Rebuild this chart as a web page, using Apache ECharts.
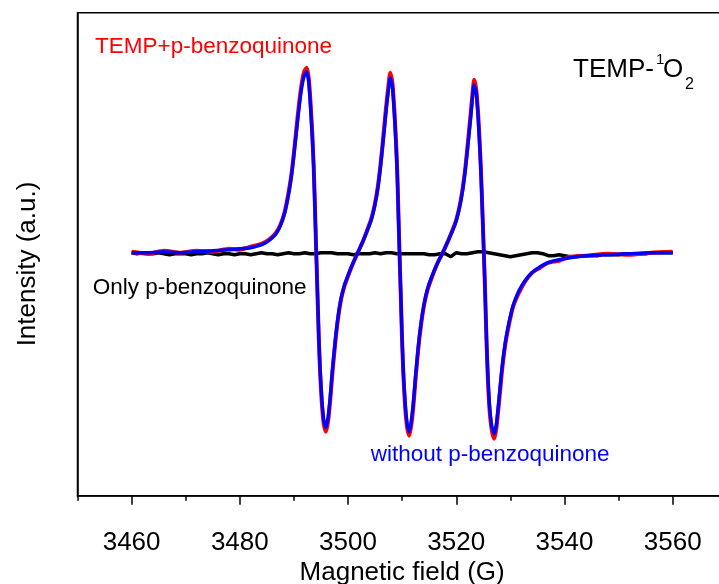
<!DOCTYPE html>
<html>
<head>
<meta charset="utf-8">
<title>EPR spectra TEMP-1O2</title>
<script src="https://cdn.jsdelivr.net/npm/echarts@6/dist/echarts.min.js"></script>
<style>
  html, body { margin: 0; padding: 0; background: #ffffff; }
  #chart { width: 719px; height: 584px; }
</style>
</head>
<body>
<div id="chart"></div>
<script>
// Magnetic field positions (G) shared by the two TEMP spectra
const fieldG = [
  3460, 3463, 3466, 3469, 3472, 3475, 3478, 3480, 3482, 3483.5,
  3484.8, 3485.8, 3486.7, 3487.5, 3488.3, 3489, 3489.5, 3489.9, 3490.4, 3490.9,
  3491.4, 3491.9, 3492.35, 3492.75, 3493.1, 3493.4, 3493.65, 3493.9, 3494.1, 3494.35,
  3494.6, 3494.85, 3495.15, 3495.5, 3495.9, 3496.3, 3496.7, 3497.1, 3497.6, 3498.1,
  3498.7, 3499.3, 3499.9, 3500.8, 3501.8, 3502.8, 3503.7, 3504.3, 3504.9, 3505.5,
  3506, 3506.5, 3507, 3507.4, 3507.8, 3508.2, 3508.55, 3508.85, 3509.1, 3509.3,
  3509.5, 3509.75, 3510, 3510.25, 3510.55, 3510.9, 3511.3, 3511.7, 3512.1, 3512.5,
  3513, 3513.5, 3514.1, 3514.7, 3515.4, 3516.4, 3517.5, 3518.5, 3519.4, 3520,
  3520.6, 3521.2, 3521.7, 3522.2, 3522.7, 3523, 3523.3, 3523.7, 3524.05, 3524.35,
  3524.6, 3524.85, 3525.1, 3525.35, 3525.6, 3525.85, 3526.15, 3526.55, 3527, 3527.4,
  3527.9, 3528.4, 3529, 3529.7, 3530.5, 3531.5, 3532.7, 3534, 3535.5, 3537,
  3539, 3541, 3544, 3548, 3552, 3556, 3560
];

// TEMP + p-benzoquinone (a.u.)
const withPBQ = [
  1, -1, 2, 0, 2, 1, 4, 3, 6, 8,
  11, 15, 20, 28, 41, 60, 77, 95, 121, 147,
  168, 181, 185, 174, 147, 118, 87, 43, 4, -41,
  -87, -121, -150, -171, -179, -169, -148, -121, -92, -68,
  -47, -34, -25, -12, 0, 12, 25, 34, 47, 66,
  88, 115, 144, 164, 180, 170, 143, 113, 80, 41,
  2, -43, -90, -125, -154, -174, -183, -172, -152, -125,
  -95, -72, -51, -37, -26, -12, 0, 12, 24, 33,
  46, 65, 86, 113, 141, 159, 173, 163, 138, 108,
  77, 39, 0, -43, -90, -127, -157, -177, -186, -176,
  -150, -121, -94, -73, -54, -41, -29, -20, -15, -10,
  -8, -4, -3, -1, -2, 0, 1
];

// TEMP without p-benzoquinone (a.u.)
const withoutPBQ = [
  0, 0, 1, 0, 1, 2, 3, 4, 5, 7,
  10, 14, 19, 27, 40, 58, 75, 93, 118, 143,
  164, 177, 181, 170, 143, 115, 85, 42, 5, -40,
  -85, -118, -146, -167, -175, -165, -145, -118, -90, -66,
  -46, -33, -24, -12, 0, 12, 24, 33, 46, 64,
  86, 112, 140, 160, 175, 166, 140, 110, 78, 40,
  2, -42, -88, -122, -150, -170, -179, -168, -148, -122,
  -93, -70, -50, -36, -25, -12, 0, 12, 23, 32,
  45, 63, 84, 110, 137, 155, 168, 159, 135, 105,
  75, 38, 0, -42, -88, -124, -153, -173, -181, -172,
  -146, -118, -92, -71, -53, -39, -28, -20, -14, -10,
  -7, -5, -3, -2, -1, 0, 0
];

// Only p-benzoquinone: field (G) and signal (a.u.)
const fieldBlack = [
  3460, 3461, 3462, 3463, 3464, 3465, 3466, 3467, 3468, 3469,
  3470, 3471, 3472, 3473, 3474, 3475, 3476, 3477, 3478, 3479,
  3480, 3481, 3482, 3483, 3484, 3485, 3486, 3487, 3488, 3489,
  3490, 3491, 3492, 3493, 3494, 3495, 3496, 3497, 3498, 3499,
  3500, 3501, 3502, 3503, 3504, 3505, 3506, 3507, 3508, 3509,
  3510, 3511, 3512, 3513, 3514, 3515, 3516, 3517, 3518, 3519,
  3520, 3521, 3522, 3523, 3524, 3525, 3526, 3527, 3528, 3529,
  3530, 3531, 3532, 3533, 3534, 3535, 3536, 3537, 3538, 3539,
  3540, 3541, 3542, 3543, 3544, 3545, 3546, 3547, 3548, 3549,
  3550, 3551, 3552, 3553, 3554, 3555, 3556, 3557, 3558, 3559, 3560
];
const onlyPBQ = [
  0, -1, 0, -1, -1, 0, -1, -2, -1, -1,
  -1, -2, -1, -1, 0, -1, -2, -1, -1, -2,
  -1, -1, -2, -1, 0, -1, -1, -2, -1, 0,
  -1, -1, 0, -1, -1, 0, 0, 0, -1, -1,
  -1, -2, -1, -1, -1, 0, -1, 0, 0, -1,
  -1, -1, -1, -1, -1, -2, -2, -1, -1, -4,
  0, -1, -1, 0, 1, 1, 0, -1, -2, -3,
  -4, -3, -2, -1, 0, 0, -1, -3, -3, -2,
  -3, -4, -4, -3, -3, -3, -3, -2, -2, -2,
  -2, -1, -1, -1, -1, -1, 0, 0, 0, 0, 0
];

// Axis ticks and labels
const majorTicks = [3460, 3480, 3500, 3520, 3540, 3560];
const minorTicks = [3450, 3470, 3490, 3510, 3530, 3550, 3570];

const pairs = (xs, ys) => xs.map((x, i) => [x, ys[i]]);

const FONT = '"Liberation Sans", Arial, sans-serif';
const chart = echarts.init(document.getElementById('chart'), null, { renderer: 'canvas' });

chart.setOption({
  animation: false,
  backgroundColor: '#ffffff',
  textStyle: { fontFamily: FONT },
  grid: {
    left: 77.5, top: 12.7, right: -7.8, bottom: 88.3,
    outerBoundsMode: 'none', containLabel: false,
    show: true, borderColor: '#000', borderWidth: 1.5,
    backgroundColor: 'transparent'
  },
  xAxis: [
    {
      type: 'value', min: 3450, max: 3570, interval: 10,
      position: 'bottom',
      name: 'Magnetic field (G)', nameLocation: 'middle', nameGap: 64, nameMoveOverlap: false,
      nameTextStyle: { fontSize: 26, color: '#000', fontFamily: FONT },
      axisLine: { show: true, onZero: false, lineStyle: { color: '#000', width: 1.5 } },
      axisTick: { show: true, length: 9, customValues: majorTicks, lineStyle: { color: '#000', width: 1.5 } },
      axisLabel: {
        show: true, customValues: majorTicks, fontSize: 26, color: '#000', margin: 34, fontFamily: FONT,
        formatter: (v) => String(v)
      },
      splitLine: { show: false }
    },
    {
      type: 'value', min: 3450, max: 3570, interval: 10,
      position: 'bottom', offset: 0,
      axisLine: { show: true, onZero: false, lineStyle: { color: '#000', width: 1.5, opacity: 0 } },
      axisTick: { show: true, length: 5, customValues: minorTicks, lineStyle: { color: '#000', width: 1.5 } },
      axisLabel: { show: false },
      splitLine: { show: false }
    }
  ],
  yAxis: {
    type: 'value', min: -243, max: 240,
    axisLine: { show: true, onZero: false, lineStyle: { color: '#000', width: 1.5 } },
    axisTick: { show: false },
    axisLabel: { show: false },
    splitLine: { show: false }
  },
  series: [
    {
      name: 'Only p-benzoquinone', type: 'line', xAxisIndex: 0,
      data: pairs(fieldBlack, onlyPBQ), showSymbol: false, smooth: false,
      lineStyle: { color: '#000000', width: 3.5 }, z: 2
    },
    {
      name: 'TEMP+p-benzoquinone', type: 'line', xAxisIndex: 0,
      data: pairs(fieldG, withPBQ), showSymbol: false, smooth: 0.2,
      lineStyle: { color: '#ff0000', width: 4 }, z: 3
    },
    {
      name: 'without p-benzoquinone', type: 'line', xAxisIndex: 0,
      data: pairs(fieldG, withoutPBQ), showSymbol: false, smooth: 0.2,
      lineStyle: { color: '#0000ff', width: 3.4 }, z: 4
    }
  ],
  graphic: [
    { type: 'text', z: 10, silent: true, x: 27.5, y: 264, rotation: Math.PI / 2,
      style: { text: 'Intensity (a.u.)', fontSize: 26, fontFamily: FONT, fill: '#000', align: 'center', verticalAlign: 'middle' } },
    { type: 'text', z: 10, silent: true, x: 95, y: 47,
      style: { text: 'TEMP+p-benzoquinone', fontSize: 22.5, fontFamily: FONT, fill: '#ff0000', align: 'left', verticalAlign: 'middle' } },
    { type: 'text', z: 10, silent: true, x: 92.7, y: 288,
      style: { text: 'Only p-benzoquinone', fontSize: 22.5, fontFamily: FONT, fill: '#000', align: 'left', verticalAlign: 'middle' } },
    { type: 'text', z: 10, silent: true, x: 370.7, y: 455,
      style: { text: 'without p-benzoquinone', fontSize: 22.5, fontFamily: FONT, fill: '#0000ff', align: 'left', verticalAlign: 'middle' } },
    { type: 'text', z: 10, silent: true, x: 573, y: 70,
      style: { text: 'TEMP-', fontSize: 26, fontFamily: FONT, fill: '#000', align: 'left', verticalAlign: 'middle' } },
    { type: 'text', z: 10, silent: true, x: 656, y: 60,
      style: { text: '1', fontSize: 15, fontFamily: FONT, fill: '#000', align: 'left', verticalAlign: 'middle' } },
    { type: 'text', z: 10, silent: true, x: 663, y: 70,
      style: { text: 'O', fontSize: 26, fontFamily: FONT, fill: '#000', align: 'left', verticalAlign: 'middle' } },
    { type: 'text', z: 10, silent: true, x: 685, y: 85,
      style: { text: '2', fontSize: 16, fontFamily: FONT, fill: '#000', align: 'left', verticalAlign: 'middle' } }
  ]
});
</script>
</body>
</html>
